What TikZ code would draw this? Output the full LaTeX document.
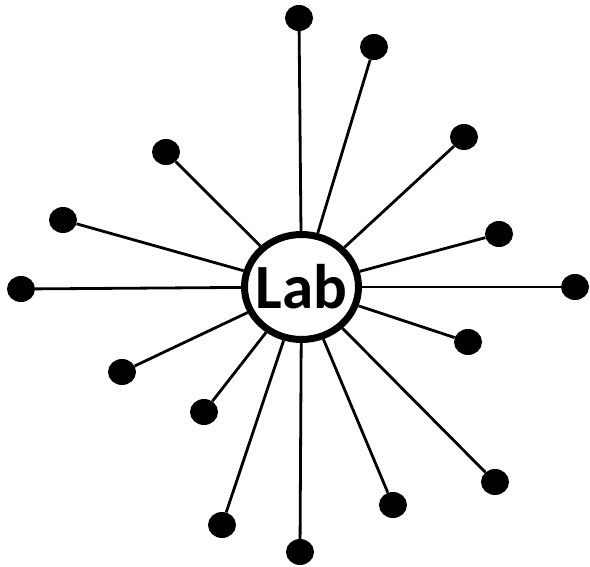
\documentclass[tikz,border=0pt]{standalone}
\usepackage{fontspec}
\setmainfont{Carlito}
\usetikzlibrary{shapes.geometric}
\tikzset{
  hub/.style={ellipse, draw=black, fill=white, line width=7pt, minimum width=114pt, minimum height=105pt, inner xsep=-8pt, inner ysep=0pt, font=\fontsize{63}{63}\selectfont\bfseries},
  dot/.style={ellipse, fill=black, minimum width=28pt, minimum height=26pt, inner sep=0pt},
  spoke/.style={line width=2.8pt, black}
}
\begin{document}
\begin{tikzpicture}[x=1pt,y=-1pt]
\useasboundingbox (0,0) rectangle (590,567);
\node[dot] (d1) at (299,18) {};
\node[dot] (d2) at (374,47) {};
\node[dot] (d3) at (464,137) {};
\node[dot] (d4) at (499,234) {};
\node[dot] (d5) at (575,287) {};
\node[dot] (d6) at (468,342) {};
\node[dot] (d7) at (495,482) {};
\node[dot] (d8) at (393,505) {};
\node[dot] (d9) at (300,552) {};
\node[dot] (d10) at (222,525) {};
\node[dot] (d11) at (204,412) {};
\node[dot] (d12) at (122,372) {};
\node[dot] (d13) at (21,289) {};
\node[dot] (d14) at (63,220) {};
\node[dot] (d15) at (166,152) {};
\node[hub] (lab) at (301.5,287) {Lab};
\foreach \i in {1,...,15} {
  \draw[spoke] (d\i) -- (lab);
}
\end{tikzpicture}
\end{document}
